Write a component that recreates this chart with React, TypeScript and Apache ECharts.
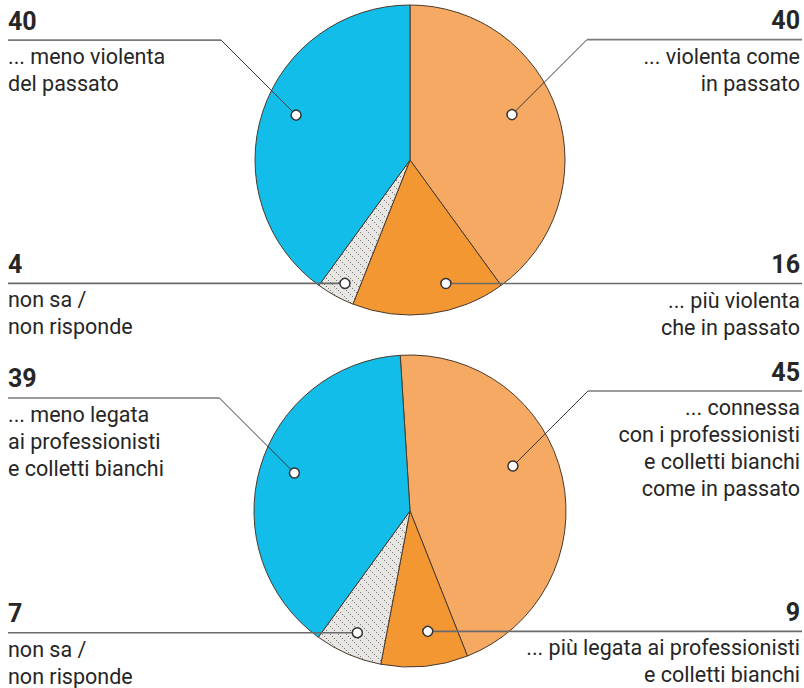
import React, { useEffect, useRef } from "react";
import * as echarts from "echarts";

// ---- data ----
const sliceNames = ["uguale", "più", "non sa", "meno"];
const topValues = [40, 16, 4, 40];
const topLabels = [
  "... violenta come\nin passato",
  "... più violenta\nche in passato",
  "non sa /\nnon risponde",
  "... meno violenta\ndel passato",
];
const bottomValues = [45, 9, 7, 39];
const bottomLabels = [
  "... connessa\ncon i professionisti\ne colletti bianchi\ncome in passato",
  "... più legata ai professionisti\ne colletti bianchi",
  "non sa /\nnon risponde",
  "... meno legata\nai professionisti\ne colletti bianchi",
];

// ---- layout / style ----
const W = 804;
const H = 688;
const COLORS = ["#f6a962", "#f39733", "HATCH", "#12bdea"];
const SIDE = ["right", "right", "left", "left"];
const UPPER = [true, false, false, true];
const pies = [
  { center: [410, 160], radius: 155, startAngle: 90, dot: [[-6, 0.72], [-9, 0.83], [-1, 0.9], [3.5, 0.79]] },
  { center: [410, 511], radius: 156, startAngle: 93.6, dot: [[-11, 0.72], [-3, 0.78], [0, 0.85], [2, 0.78]] },
];
const FONT = "Roboto, 'Noto Sans', sans-serif";

function makeHatch(): HTMLCanvasElement {
  const c = document.createElement("canvas");
  c.width = 8;
  c.height = 8;
  const ctx = c.getContext("2d")!;
  ctx.fillStyle = "#e8e6e3";
  ctx.fillRect(0, 0, 8, 8);
  ctx.fillStyle = "#7a7a7a";
  for (let i = 0; i < 8; i += 2) ctx.fillRect(i, i, 1, 1);
  return c;
}

export default function App() {
  const ref = useRef<HTMLDivElement>(null);
  useEffect(() => {
    if (!ref.current) return;
    const chart = echarts.init(ref.current, undefined, { renderer: "svg" });
    const hatch = makeHatch();
    const pattern: any = { image: hatch, repeat: "repeat", imageWidth: 8, imageHeight: 8 };
    const datasets = [
      { values: topValues, labels: topLabels },
      { values: bottomValues, labels: bottomLabels },
    ];

    const series: any[] = [];
    const graphics: any[] = [];

    datasets.forEach((ds, pi) => {
      const p = pies[pi];
      series.push({
        type: "pie",
        center: p.center,
        radius: p.radius,
        startAngle: p.startAngle,
        clockwise: true,
        silent: true,
        label: { show: false },
        labelLine: { show: false },
        itemStyle: { borderColor: "#4a3a2c", borderWidth: 1 },
        data: ds.values.map((v, i) => ({
          name: sliceNames[i],
          value: v,
          itemStyle: { color: COLORS[i] === "HATCH" ? pattern : COLORS[i] },
        })),
      });

      const total = ds.values.reduce((a, b) => a + b, 0);
      let cursor = 90 - p.startAngle;
      ds.values.forEach((v, i) => {
        const span = (v / total) * 360;
        const mid = cursor + span / 2;
        cursor += span;
        const ang = ((mid + p.dot[i][0]) * Math.PI) / 180;
        const r = p.dot[i][1] * p.radius;
        const dx = p.center[0] + r * Math.sin(ang);
        const dy = p.center[1] - r * Math.cos(ang);
        const right = SIDE[i] === "right";
        const edgeX = right ? 802 : 8;
        let lineY = dy;
        if (UPPER[i]) {
          lineY = dy - 75;
          const cx = right ? dx + 75 : dx - 75;
          graphics.push({
            type: "line",
            z: 100,
            shape: { x1: edgeX, y1: lineY, x2: cx, y2: lineY },
            style: { stroke: "#7a7a7a", lineWidth: 1.6 },
          });
          graphics.push({
            type: "line",
            z: 100,
            shape: { x1: cx, y1: lineY, x2: dx, y2: dy },
            style: { stroke: "#3a3a3a", lineWidth: 1 },
          });
        } else {
          graphics.push({
            type: "line",
            z: 100,
            shape: { x1: edgeX, y1: lineY, x2: dx, y2: dy },
            style: { stroke: "#6a6a6a", lineWidth: 1.6 },
          });
        }
        graphics.push({
          type: "circle",
          z: 101,
          shape: { cx: dx, cy: dy, r: 5 },
          style: { fill: "#ffffff", stroke: "#333333", lineWidth: 1.5 },
        });
        const tx = right ? 800 : 8;
        graphics.push({
          type: "text",
          z: 102,
          x: tx,
          y: lineY - 19,
          style: {
            text: String(v),
            fill: "#262626",
            font: `bold 25px ${FONT}`,
            align: right ? "right" : "left",
            verticalAlign: "middle",
          },
        });
        graphics.push({
          type: "text",
          z: 102,
          x: tx,
          y: lineY + 3,
          style: {
            text: ds.labels[i],
            fill: "#262626",
            font: `21.5px ${FONT}`,
            lineHeight: 27,
            align: right ? "right" : "left",
            verticalAlign: "top",
          },
        });
      });
    });

    chart.setOption({
      animation: false,
      backgroundColor: "#ffffff",
      series,
      graphic: { elements: graphics },
    });
    return () => chart.dispose();
  }, []);
  return (
    <div
      ref={ref}
      style={{ position: "absolute", left: 0, top: 0, width: W, height: H }}
    />
  );
}
